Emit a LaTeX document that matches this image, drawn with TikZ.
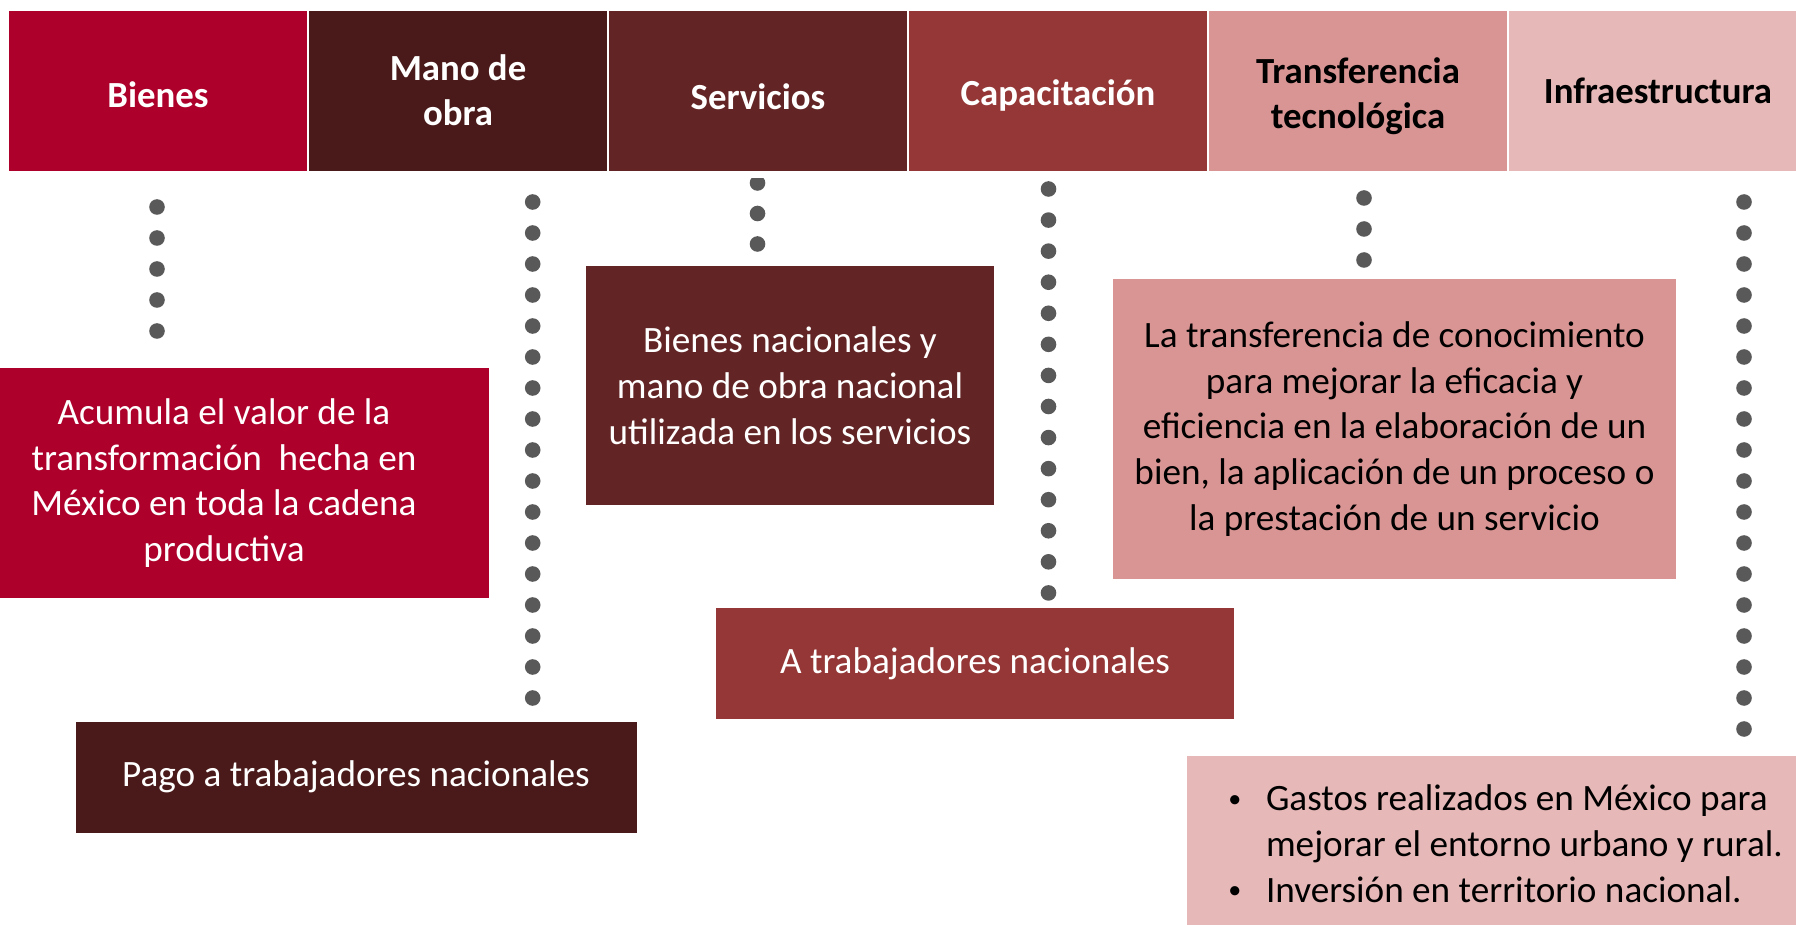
\documentclass[tikz,border=0pt]{standalone}
\usepackage{fontspec}
\setmainfont{Carlito}
\definecolor{cBienes}{HTML}{AD002B}
\definecolor{cMano}{HTML}{4A1A1A}
\definecolor{cServ}{HTML}{632425}
\definecolor{cCap}{HTML}{953736}
\definecolor{cTrans}{HTML}{D99594}
\definecolor{cInfra}{HTML}{E6B8B7}
\definecolor{dotgray}{HTML}{595959}
\newcommand{\smbullet}{\raisebox{0.09em}{\scalebox{0.7}{\textbullet}}}
\begin{document}
\begin{tikzpicture}[x=0.5pt,y=-0.5pt,
  hdr/.style={minimum width=149pt, minimum height=80pt, inner sep=0pt},
  htxt/.style={inner sep=0pt, font=\bfseries\fontsize{18.4pt}{22.4pt}\selectfont, align=center},
  box/.style={inner sep=0pt, font=\fontsize{18.6pt}{22.9pt}\selectfont, align=center},
  dot/.style={fill=dotgray}]
\useasboundingbox (0,0) rectangle (1796,925);
\clip (0,0) rectangle (1796,925);
% header row
\node[hdr, fill=cBienes] (h1) at (158,91) {};
\node[hdr, fill=cMano] (h2) at (458,91) {};
\node[hdr, fill=cServ] (h3) at (758,91) {};
\node[hdr, fill=cCap] (h4) at (1058,91) {};
\node[hdr, fill=cTrans] (h5) at (1358,91) {};
\node[hdr, fill=cInfra] (h6) at (1658,91) {};
\node[htxt, text=white] (h1t) at (158,94.5) {Bienes};
\node[htxt, text=white] (h2t) at (458,90.5) {Mano de\\obra};
\node[htxt, text=white] (h3t) at (758,96.5) {Servicios};
\node[htxt, text=white] (h4t) at (1058,95.5) {Capacitación};
\node[htxt, text=black] (h5t) at (1358,96) {Transferencia\\tecnológica};
\node[htxt, text=black] (h6t) at (1658,91) {Infraestructura};
% dotted columns
\foreach \k in {0,...,4} \fill[dot] (157,{207+31*\k}) circle[radius=3.9pt];
\foreach \k in {0,...,16} \fill[dot] (532.7,{202+31*\k}) circle[radius=3.9pt];
\begin{scope}
  \clip (700,179) rectangle (820,300);
  \foreach \k in {0,...,2} \fill[dot] (757.5,{183+30.5*\k}) circle[radius=3.9pt];
\end{scope}
\foreach \k in {0,...,13} \fill[dot] (1048.5,{189+31.07*\k}) circle[radius=3.9pt];
\foreach \k in {0,...,2} \fill[dot] (1364,{198+31*\k}) circle[radius=3.9pt];
\foreach \k in {0,...,17} \fill[dot] (1744,{202+31*\k}) circle[radius=3.9pt];
% content boxes
\node[box, fill=cBienes, text=white, minimum width=265pt, minimum height=115pt] (b1) at (224,483)
  {Acumula el valor de la\\transformación\ \ hecha en\\México en toda la cadena\\productiva};
\node[box, fill=cMano, text=white, minimum width=280.5pt, minimum height=55.5pt] (b2) at (356,777)
  {Pago a trabajadores nacionales};
\node[box, fill=cServ, text=white, minimum width=204pt, minimum height=119.5pt] (b3) at (790,385.5)
  {Bienes nacionales y\\mano de obra nacional\\utilizada en los servicios};
\node[box, fill=cCap, text=white, minimum width=259pt, minimum height=55.5pt] (b4) at (975,663.5)
  {A trabajadores nacionales};
\node[box, fill=cTrans, text=black, minimum width=281.5pt, minimum height=149.5pt] (b5) at (1394.5,429)
  {La transferencia de conocimiento\\para mejorar la eficacia y\\eficiencia en la elaboración de un\\bien, la aplicación de un proceso o\\la prestación de un servicio};
\node[box, fill=cInfra, minimum width=311.5pt, minimum height=92pt] (b6) at (1498.5,848) {};
\node[box, align=left, text=black, anchor=west] (b6t) at (1228,843.5)
  {\makebox[18.8pt][l]{\smbullet}Gastos realizados en México para\\
   \hspace*{18.8pt}mejorar el entorno urbano y rural.\\
   \makebox[18.8pt][l]{\smbullet}Inversión en territorio nacional.};
\end{tikzpicture}
\end{document}
